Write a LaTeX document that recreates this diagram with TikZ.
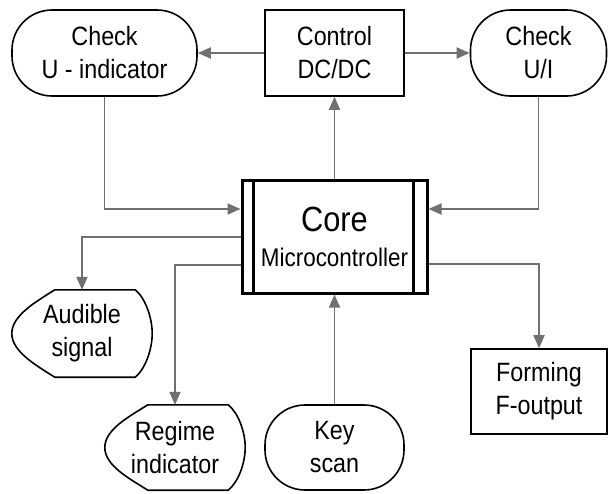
\documentclass[tikz,border=0pt]{standalone}
\usepackage{fontspec}
\setmainfont[FakeStretch=0.88]{Liberation Sans}
\usetikzlibrary{arrows.meta}
\definecolor{conn}{HTML}{707070}
\tikzset{
  box/.style={draw=black, line width=1.6pt, align=center, inner sep=0pt,
    font=\fontsize{26.5}{33}\selectfont},
  stadium/.style={box, rounded corners=40pt},
  plain/.style={align=center, inner sep=0pt, font=\fontsize{26.5}{33}\selectfont},
  shapeline/.style={draw=black, line width=1.6pt},
  link/.style={draw=conn, line width=1.8pt, -{Triangle[length=13pt,width=11pt]}},
  corebox/.style={draw=black, line width=3pt, align=center, inner sep=0pt,
    font=\fontsize{25.5}{36}\selectfont}
}
\newcommand{\dispshape}[1]{%
  \draw[shapeline] ([xshift=43pt]#1.north west) -- ([xshift=-17pt]#1.north east)
    .. controls ([xshift=-7pt,yshift=-8pt]#1.north east) and ([yshift=16pt]#1.east) .. (#1.east)
    .. controls ([yshift=-16pt]#1.east) and ([xshift=-7pt,yshift=8pt]#1.south east) .. ([xshift=-17pt]#1.south east)
    -- ([xshift=43pt]#1.south west)
    .. controls ([xshift=24pt,yshift=12pt]#1.south west) and ([yshift=-18pt]#1.west) .. (#1.west)
    .. controls ([yshift=18pt]#1.west) and ([xshift=24pt,yshift=-12pt]#1.north west) .. cycle;}
\begin{document}
\begin{tikzpicture}[x=1pt,y=-1pt]
\useasboundingbox (0,0) rectangle (608,493);
\fill[white] (0,0) rectangle (608,493);
% top row
\node[stadium, minimum width=185pt, minimum height=86pt] (cu) at (104.5,53) {Check\\U - indicator};
\node[box, minimum width=139pt, minimum height=86pt] (ctl) at (334.5,53) {Control\\DC/DC};
\node[stadium, minimum width=136pt, minimum height=86pt] (cui) at (538.5,53) {Check\\U/I};
% core
\node[corebox, minimum width=185pt, minimum height=113pt] (core) at (334.5,236.5)
  {{\fontsize{35}{42}\selectfont Core}\\[-1pt]Microcontroller};
\draw[line width=3pt] ([xshift=13pt]core.north west) -- ([xshift=13pt]core.south west);
\draw[line width=3pt] ([xshift=-15pt]core.north east) -- ([xshift=-15pt]core.south east);
% lower nodes
\node[plain, minimum width=140pt, minimum height=87pt] (aud) at (82,333.5) {Audible\\signal};
\dispshape{aud}
\node[plain, minimum width=140pt, minimum height=85pt] (reg) at (175,447.5) {Regime\\indicator};
\dispshape{reg}
\node[stadium, minimum width=139pt, minimum height=85pt] (key) at (334.5,447.5) {Key\\scan};
\node[box, minimum width=136pt, minimum height=85pt] (form) at (539,391.5) {Forming\\F-output};
% connectors
\draw[link] (ctl.west) -- (cu.east);
\draw[link] (ctl.east) -- (cui.west);
\draw[link] (core.north) -- (ctl.south);
\draw[link] (cu.south) |- ([yshift=27.5pt]core.west);
\draw[link] (cui.south) |- ([yshift=27.5pt]core.east);
\draw[link] ([yshift=-0.5pt]core.west) -| (aud.north);
\draw[link] ([yshift=-28.5pt]core.west) -| (reg.north);
\draw[link] (key.north) -- (core.south);
\draw[link] ([yshift=-27.5pt]core.east) -| (form.north);
\end{tikzpicture}
\end{document}
